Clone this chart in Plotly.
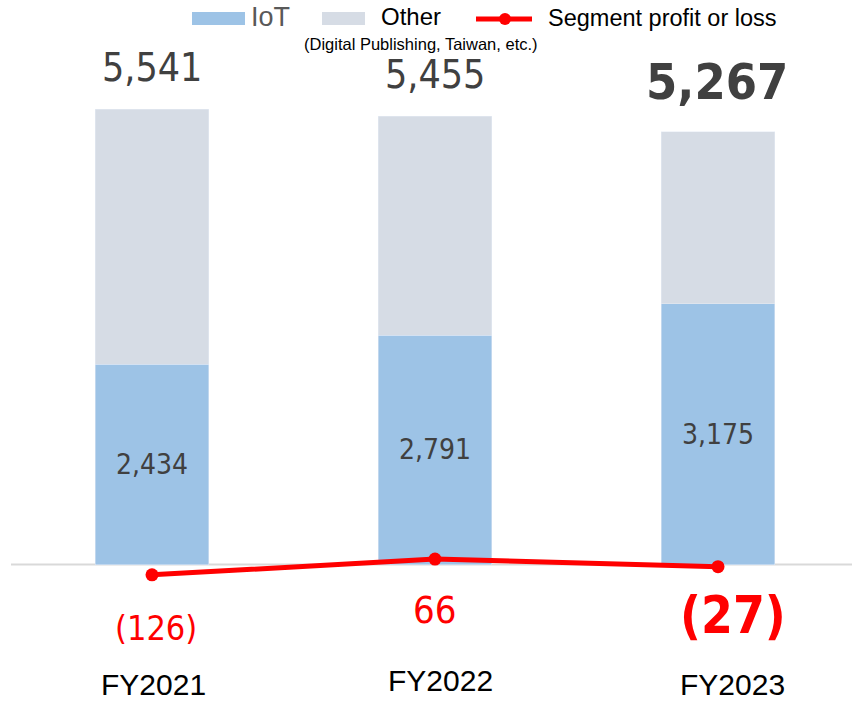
import plotly.graph_objects as go

# ---- data ----
categories = ["FY2021", "FY2022", "FY2023"]
iot = [2434, 2791, 3175]
totals = [5541, 5455, 5267]
other = [t - i for t, i in zip(totals, iot)]
profit = [-126, 66, -27]

legend_iot = "IoT"
legend_other = "Other"
legend_other_sub = "(Digital Publishing, Taiwan, etc.)"
legend_profit = "Segment profit or loss"

# ---- style ----
W, H = 852, 702
C_IOT = "#9DC3E6"
C_OTHER = "#D6DCE5"
C_RED = "#FF0000"
C_TXT = "#404040"
NUMF = "DejaVu Sans Condensed, DejaVu Sans, Liberation Sans"
TXTF = "Liberation Sans, Arial, sans-serif"


def px(x):
    return x / W


def py(y):
    return 1 - y / H


def fmt_profit(v):
    return f"({abs(v):,})" if v < 0 else f"{v:,}"


fig = go.Figure()
fig.add_trace(go.Bar(
    x=categories, y=iot, name=legend_iot, marker_color=C_IOT, width=0.4,
    text=[f"{v:,}" for v in iot], textposition="inside", insidetextanchor="middle",
    textfont=dict(family=NUMF, size=28, color=C_TXT), showlegend=False,
    hoverinfo="skip",
))
fig.add_trace(go.Bar(
    x=categories, y=other, name=legend_other, marker_color=C_OTHER, width=0.4,
    showlegend=False, hoverinfo="skip",
))
fig.add_trace(go.Scatter(
    x=categories, y=profit, name=legend_profit, mode="lines+markers",
    line=dict(color=C_RED, width=5), marker=dict(color=C_RED, size=13),
    showlegend=False, hoverinfo="skip",
))

ann = []
# totals
last = len(categories) - 1
for i, (c, t) in enumerate(zip(categories, totals)):
    hi = i == last
    ann.append(dict(
        x=c, y=t, xref="x", yref="y", text=f"<b>{t:,}</b>" if hi else f"{t:,}",
        showarrow=False, yanchor="middle", yshift=50 if hi else 42, xshift=-1 if hi else 0,
        font=dict(family=NUMF, size=50 if hi else 39, color=C_TXT),
    ))
# profit labels
p_sizes = [34, 38, 51]
p_xshift = [4, 0, 15]
p_yshift = [-53, -51, -49]
for i, (c, v) in enumerate(zip(categories, profit)):
    hi = i == last
    ann.append(dict(
        x=c, y=v, xref="x", yref="y", text=f"<b>{fmt_profit(v)}</b>" if hi else fmt_profit(v),
        showarrow=False, yanchor="middle", yshift=p_yshift[i], xshift=p_xshift[i],
        font=dict(family=NUMF, size=p_sizes[i], color=C_RED),
    ))
# category labels (boxes kept inside the frame)
c_xshift = [1, 5, 14]
c_yshift = [0, 4, 0]
for i, c in enumerate(categories):
    ann.append(dict(
        x=c, y=0, xref="x", yref="paper", text=c, showarrow=False,
        yanchor="bottom", xshift=c_xshift[i], yshift=c_yshift[i], borderpad=0,
        font=dict(family=TXTF, size=30, color="#000000"),
    ))

# legend (manual)
shapes = [
    dict(type="line", xref="paper", yref="y", x0=px(11), x1=1, y0=0, y1=0,
         line=dict(color="#D9D9D9", width=2), layer="below"),
    dict(type="rect", xref="paper", yref="paper", x0=px(192), x1=px(245), y0=py(25), y1=py(12),
         fillcolor=C_IOT, line=dict(width=0)),
    dict(type="rect", xref="paper", yref="paper", x0=px(322), x1=px(365), y0=py(25), y1=py(12),
         fillcolor=C_OTHER, line=dict(width=0)),
    dict(type="line", xref="paper", yref="paper", x0=px(476), x1=px(532), y0=py(19), y1=py(19),
         line=dict(color=C_RED, width=5)),
    dict(type="circle", xref="paper", yref="paper", x0=px(499), x1=px(511), y0=py(25), y1=py(13),
         fillcolor=C_RED, line=dict(width=0)),
]
ann += [
    dict(x=px(249), y=py(17), xref="paper", yref="paper", text=legend_iot, showarrow=False,
         xanchor="left", yanchor="middle", font=dict(family=TXTF, size=27, color="#595959")),
    dict(x=px(379), y=py(17), xref="paper", yref="paper", text=legend_other, showarrow=False,
         xanchor="left", yanchor="middle", font=dict(family=TXTF, size=24, color="#000000")),
    dict(x=px(302), y=py(44), xref="paper", yref="paper", text=legend_other_sub, showarrow=False,
         xanchor="left", yanchor="middle", font=dict(family=TXTF, size=16.5, color="#000000")),
    dict(x=px(546), y=py(18), xref="paper", yref="paper", text=legend_profit, showarrow=False,
         xanchor="left", yanchor="middle", font=dict(family=TXTF, size=23.5, color="#000000")),
]

zero_px = 564.5
k = (zero_px - 109) / totals[0]
fig.update_layout(
    width=W, height=H, margin=dict(l=0, r=0, t=0, b=0),
    paper_bgcolor="white", plot_bgcolor="white", barmode="stack",
    xaxis=dict(range=[-152 / 283, (W - 152) / 283], visible=False, fixedrange=True),
    yaxis=dict(range=[-(H - zero_px) / k, zero_px / k], visible=False, fixedrange=True),
    annotations=ann, shapes=shapes, showlegend=False,
    uniformtext=dict(mode=False),
)
fig.write_html("out.html", config={"displayModeBar": False})
